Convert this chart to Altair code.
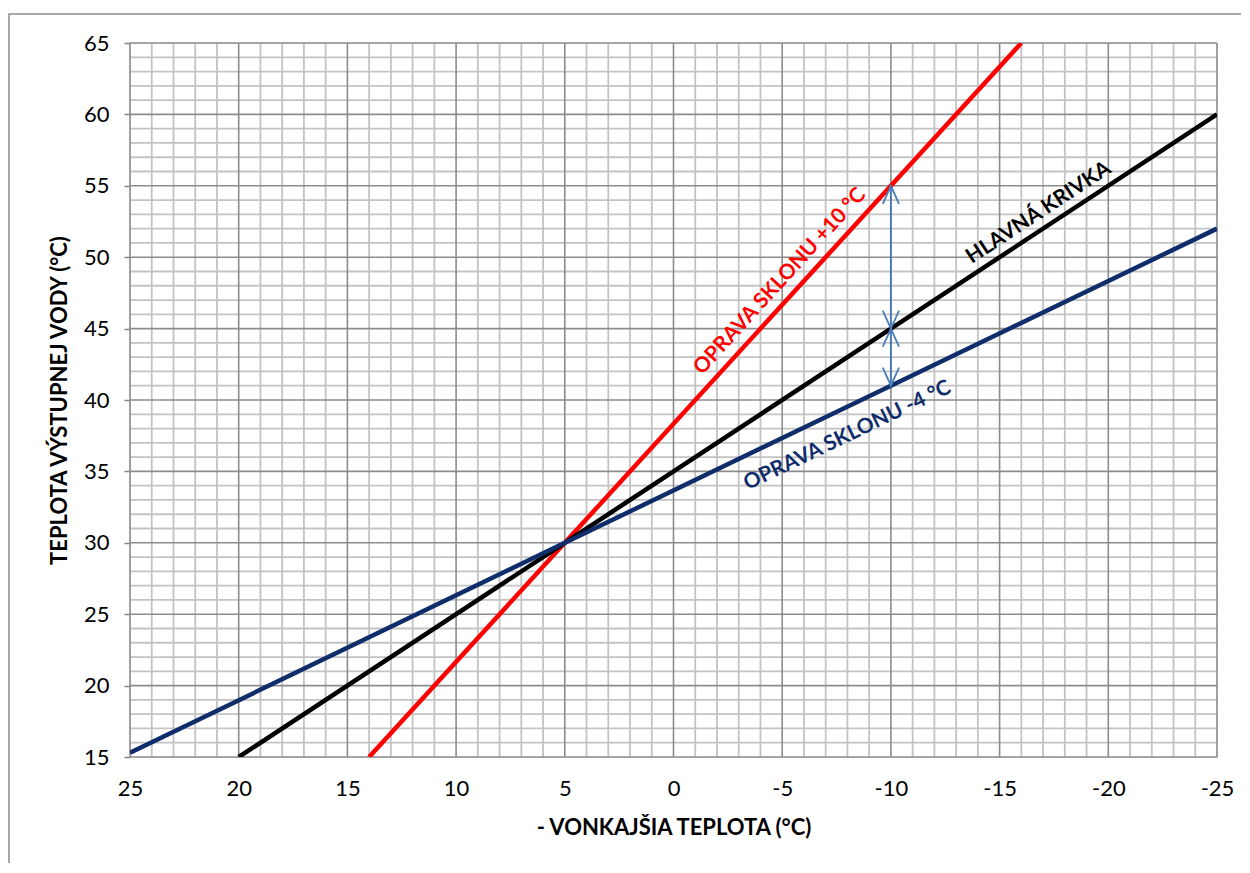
import altair as alt
import pandas as pd

# ---- data ----
main_x = [20, 5, -10, -25]
main_y = [15, 30, 45, 60]
red_x = [14, 5, -10, -16]
red_y = [15, 30, 55, 65]
blue_x = [25, 5, -10, -25]
blue_y = [15.3, 30, 41, 52]

x_major = [25, 20, 15, 10, 5, 0, -5, -10, -15, -20, -25]
y_major = [15, 20, 25, 30, 35, 40, 45, 50, 55, 60, 65]
x_minor = list(range(-25, 26))
y_minor = list(range(15, 66))

label_text = ["OPRAVA SKLONU +10 °C", "HLAVNÁ KRIVKA", "OPRAVA SKLONU -4 °C"]
label_x = [-4.9, -16.8, -8.0]
label_y = [48.3, 53.1, 37.5]
label_angle = [312.4, 326.7, 334.3]
label_color = ["#FF0000", "#000000", "#0F2D6B"]

arrow_x = -10
arrow_top, arrow_mid, arrow_bot = 55, 45, 41

FONT = "Lato"
W, H = 1087, 714

xs = alt.Scale(domain=[-25, 25], reverse=True, nice=False, zero=False)
ys = alt.Scale(domain=[15, 65], nice=False, zero=False)

xaxis = alt.Axis(values=x_major, title="- VONKAJŠIA TEPLOTA (°C)", grid=False, ticks=False,
                 domain=False, labelFont=FONT, labelFontSize=22, labelColor="#000",
                 labelPadding=21, titleFont=FONT, titleFontSize=22, titleFontWeight="bold",
                 titleColor="#000", titlePadding=18, labelFlush=False,
                 labelExpr="'' + datum.value")
yaxis = alt.Axis(values=y_major, title="TEPLOTA VÝSTUPNEJ VODY (°C)", grid=False, ticks=True,
                 tickSize=6, tickColor="#868686", tickWidth=1.5, domain=False,
                 labelFont=FONT, labelFontSize=22, labelColor="#000", labelPadding=15,
                 titleFont=FONT, titleFontSize=22, titleFontWeight="bold", titleColor="#000",
                 titlePadding=12, labelFlush=False, labelExpr="'' + datum.value")

# grid
gx_minor = pd.DataFrame({"x": [v for v in x_minor if v % 5 != 0]})
gy_minor = pd.DataFrame({"y": [v for v in y_minor if v % 5 != 0]})
gx_major = pd.DataFrame({"x": x_major})
gy_major = pd.DataFrame({"y": y_major})

grid_minor_x = alt.Chart(gx_minor).mark_rule(color="#C3C3C3", strokeWidth=1.8).encode(
    x=alt.X("x:Q", scale=xs, axis=xaxis))
grid_minor_y = alt.Chart(gy_minor).mark_rule(color="#C3C3C3", strokeWidth=1.8).encode(
    y=alt.Y("y:Q", scale=ys, axis=yaxis))
grid_major_x = alt.Chart(gx_major).mark_rule(color="#8C8C8C", strokeWidth=1.6).encode(
    x=alt.X("x:Q", scale=xs))
grid_major_y = alt.Chart(gy_major).mark_rule(color="#8C8C8C", strokeWidth=1.6).encode(
    y=alt.Y("y:Q", scale=ys))

# curves
rows = []
for name, xv, yv in [("red", red_x, red_y), ("main", main_x, main_y), ("blue", blue_x, blue_y)]:
    for i, (a, b) in enumerate(zip(xv, yv)):
        rows.append({"s": name, "x": a, "y": b, "o": i})
lines_df = pd.DataFrame(rows)
lines = alt.Chart(lines_df).mark_line(strokeWidth=4.5, clip=True).encode(
    x=alt.X("x:Q", scale=xs),
    y=alt.Y("y:Q", scale=ys),
    order="o:Q",
    detail="s:N",
    color=alt.Color("s:N", scale=alt.Scale(domain=["red", "main", "blue"],
                                           range=["#FF0000", "#000000", "#0F2D6B"]), legend=None),
)

# arrows
arrow_df = pd.DataFrame({"x": [arrow_x], "y": [arrow_top], "y2": [arrow_bot]})
arrow_line = alt.Chart(arrow_df).mark_rule(color="#4A7EBB", strokeWidth=2).encode(
    x=alt.X("x:Q", scale=xs), y=alt.Y("y:Q", scale=ys), y2="y2:Q")
up_df = pd.DataFrame({"x": [arrow_x, arrow_x], "y": [arrow_top, arrow_mid]})
down_df = pd.DataFrame({"x": [arrow_x, arrow_x], "y": [arrow_mid, arrow_bot]})
up_heads = alt.Chart(up_df).mark_point(shape="M -0.45,1 L 0,0 L 0.45,1", size=1296, filled=False,
                                       stroke="#4A7EBB", strokeWidth=1.8, opacity=1).encode(
    x=alt.X("x:Q", scale=xs), y=alt.Y("y:Q", scale=ys))
down_heads = alt.Chart(down_df).mark_point(shape="M -0.45,-1 L 0,0 L 0.45,-1", size=1296, filled=False,
                                           stroke="#4A7EBB", strokeWidth=1.8, opacity=1).encode(
    x=alt.X("x:Q", scale=xs), y=alt.Y("y:Q", scale=ys))

# labels
lab_df = pd.DataFrame({"t": label_text, "x": label_x, "y": label_y, "a": label_angle, "c": label_color})
labels = alt.Chart(lab_df).mark_text(font=FONT, fontSize=21, fontWeight="bold",
                                     align="center", baseline="middle").encode(
    x=alt.X("x:Q", scale=xs), y=alt.Y("y:Q", scale=ys), text="t:N",
    angle=alt.Angle("a:Q", scale=None), color=alt.Color("c:N", scale=None))

# outer frame (left/top edge of chart area)
frame = alt.Chart(pd.DataFrame({"d": [0]})).mark_rect(fill=None, stroke="#8C8C8C", strokeWidth=1.5).encode(
    x=alt.value(-121), x2=alt.value(1300), y=alt.value(-29), y2=alt.value(1000))

chart = alt.layer(
    frame, grid_minor_x, grid_minor_y, grid_major_x, grid_major_y,
    lines, arrow_line, up_heads, down_heads, labels
).properties(
    width=W, height=H,
    autosize=alt.AutoSizeParams(type="none"),
    padding={"left": 122, "top": 35, "right": 24, "bottom": 106},
).configure_view(stroke=None).configure(background="white")

chart.save("out.html", embed_options={"renderer": "svg", "actions": False})
